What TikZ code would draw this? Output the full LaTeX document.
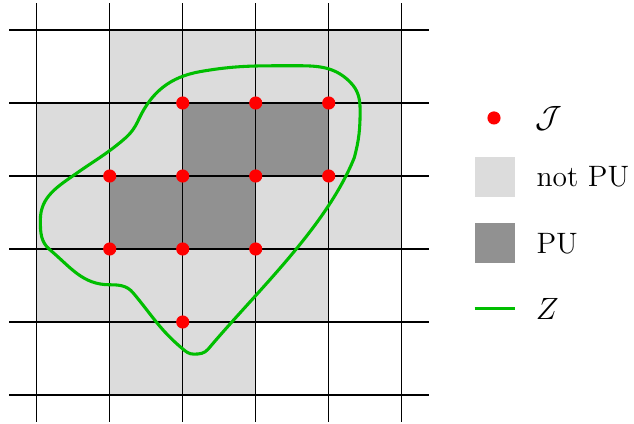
\documentclass[tikz,border=0pt]{standalone}
\definecolor{lgray}{RGB}{220,220,220}
\definecolor{dgray}{RGB}{145,145,145}
\definecolor{zgreen}{RGB}{0,190,0}
\begin{document}
\begin{tikzpicture}[x=1cm,y=1cm,
  gridline/.style={black, line width=0.55pt},
  jdot/.style={circle, fill=red, inner sep=0pt, minimum size=0.18cm},
  zcurve/.style={zgreen, line width=1.2pt},
  legsq/.style={inner sep=0pt, minimum size=0.548cm},
  legtext/.style={anchor=base west, inner sep=0pt, font=\fontsize{11.5}{14}\selectfont}]
\useasboundingbox (-0.503,-0.384) rectangle (8.182,5.411);
% light gray cells
\fill[lgray] (1,5) rectangle (5,4);
\fill[lgray] (0,4) rectangle (5,2);
\fill[lgray] (0,2) rectangle (4,1);
\fill[lgray] (1,1) rectangle (3,0);
% dark gray cells
\fill[dgray] (2,4) rectangle (4,3);
\fill[dgray] (1,3) rectangle (3,2);
% grid
\foreach \i in {0,...,5} {
  \draw[gridline] (\i,-0.366) -- (\i,5.37);
  \draw[gridline] (-0.375,\i) -- (5.374,\i);
}
% curve Z
\coordinate (k1) at (1.40,3.78);
\coordinate (k2) at (2.24,4.43);
\coordinate (k3) at (3.47,4.51);
\coordinate (k4) at (4.29,4.29);
\coordinate (k5) at (4.43,3.90);
\coordinate (k6) at (4.35,3.25);
\coordinate (k7) at (2.35,0.63);
\coordinate (k8) at (2.15,0.56);
\coordinate (k9) at (1.99,0.64);
\coordinate (k10) at (1.32,1.40);
\coordinate (k11) at (1.00,1.51);
\coordinate (k12) at (0.18,1.99);
\coordinate (k13) at (0.05,2.40);
\coordinate (k14) at (0.55,3.04);
\coordinate (k15) at (1.18,3.49);
\draw[zcurve] (k1) to[out=65,in=190] (k2) to[out=10,in=180] (k3)
  to[out=0,in=135] (k4) to[out=-45,in=90] (k5) to[out=-90,in=75] (k6)
  to[out=-112,in=50,looseness=0.8] (k7) to[out=230,in=0] (k8) to[out=180,in=-40] (k9)
  to[out=140,in=-50] (k10) to[out=130,in=0] (k11) to[out=180,in=-40] (k12)
  to[out=140,in=-90] (k13) to[out=90,in=-145] (k14) to[out=35,in=-140] (k15)
  to[out=40,in=-115] (k1) -- cycle;
% points J
\node[jdot] (p24) at (2,4) {};
\node[jdot] (p34) at (3,4) {};
\node[jdot] (p44) at (4,4) {};
\node[jdot] (p13) at (1,3) {};
\node[jdot] (p23) at (2,3) {};
\node[jdot] (p33) at (3,3) {};
\node[jdot] (p43) at (4,3) {};
\node[jdot] (p12) at (1,2) {};
\node[jdot] (p22) at (2,2) {};
\node[jdot] (p32) at (3,2) {};
\node[jdot] (p21) at (2,1) {};
% legend
\node[jdot] (ldot) at (6.264,3.795) {};
\node[legtext] (ltj) at (6.83,3.66) {$\mathcal{J}$};
\node[legsq, fill=lgray] (lsq1) at (6.272,2.99) {};
\node[legtext] (ltnp) at (6.84,2.853) {not PU};
\node[legsq, fill=dgray] (lsq2) at (6.272,2.085) {};
\node[legtext] (ltpu) at (6.84,1.941) {PU};
\coordinate (lz1) at (5.999,1.188);
\coordinate (lz2) at (6.545,1.188);
\draw[zcurve] (lz1) -- (lz2);
\node[legtext] (ltz) at (6.83,1.041) {$Z$};
\end{tikzpicture}
\end{document}
